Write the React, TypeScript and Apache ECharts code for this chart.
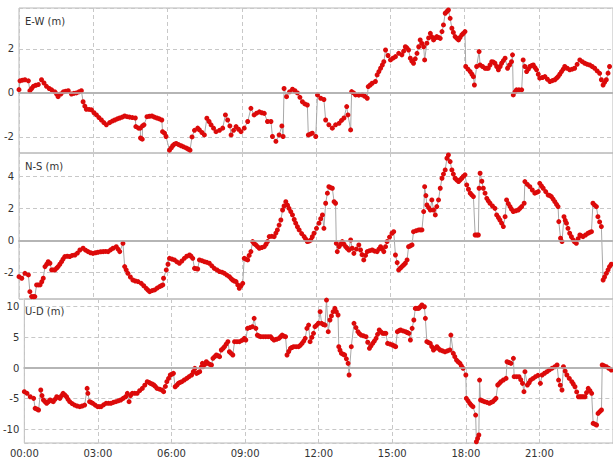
import React, { useEffect, useRef } from 'react';
import * as echarts from 'echarts';

const panelTitles = ['E-W (m)', 'N-S (m)', 'U-D (m)'];
const hourTicks = ['00:00', '03:00', '06:00', '09:00', '12:00', '15:00', '18:00', '21:00', '24:00'];

// [hour of day, metres]
const ewData: [number, number][] = [
  [0.00,0.15],[0.04,0.55],[0.14,0.58],[0.24,0.6],[0.38,0.55],[0.44,0.1],[0.51,0.2],[0.58,0.3],[0.68,0.35],[0.78,0.38],[0.91,0.6],[1.01,0.45],[1.11,0.3],[1.22,0.2],[1.32,0.14],[1.45,0.05],[1.52,-0.05],[1.58,-0.17],[1.69,-0.05],[1.79,0.05],[1.89,0.08],[1.99,0.1],[2.12,-0.05],[2.22,-0.02],[2.32,0.0],[2.42,0.05],[2.52,0.1],[2.59,-0.4],[2.66,-0.6],[2.72,-0.74],[2.83,-0.75],[2.93,-0.77],[3.03,-0.9],[3.13,-1.0],[3.23,-1.12],[3.33,-1.23],[3.43,-1.35],[3.53,-1.45],[3.66,-1.35],[3.77,-1.28],[3.87,-1.23],[3.97,-1.18],[4.07,-1.14],[4.17,-1.1],[4.27,-1.05],[4.37,-1.08],[4.47,-1.1],[4.58,-1.12],[4.70,-1.14],[4.72,-1.53],[4.83,-1.6],[4.90,-1.6],[4.91,-2.05],[4.98,-2.1],[4.99,-1.5],[5.05,-1.45],[5.17,-1.08],[5.27,-1.06],[5.37,-1.05],[5.47,-1.1],[5.57,-1.14],[5.67,-1.18],[5.77,-1.23],[5.80,-1.76],[5.88,-1.83],[5.94,-1.98],[6.08,-2.6],[6.15,-2.5],[6.21,-2.4],[6.28,-2.33],[6.35,-2.3],[6.45,-2.35],[6.55,-2.4],[6.65,-2.45],[6.75,-2.5],[6.83,-2.55],[6.91,-2.6],[6.99,-2.0],[7.09,-1.7],[7.22,-1.6],
  [7.29,-1.68],[7.39,-1.8],[7.49,-1.91],[7.59,-1.15],[7.68,-1.3],[7.76,-1.45],[7.86,-1.6],[7.96,-1.76],[8.1,-1.7],[8.23,-1.6],[8.34,-1.0],[8.43,-1.23],[8.52,-1.5],[8.57,-1.91],[8.67,-1.7],[8.77,-1.53],[8.87,-1.65],[8.97,-1.76],[9.10,-1.6],[9.24,-1.3],[9.37,-0.7],[9.50,-1.0],[9.6,-0.92],[9.71,-0.86],[9.81,-0.9],[9.91,-0.93],[10.04,-1.3],[10.18,-1.3],[10.24,-1.98],[10.38,-2.2],[10.51,-1.91],[10.62,-1.5],[10.67,-1.98],[10.71,0.2],[10.81,-0.17],[10.93,0.05],[11.05,0.17],[11.15,0.1],[11.25,0.0],[11.35,-0.2],[11.45,-0.4],[11.55,-0.5],[11.65,-0.55],[11.69,-1.91],[11.77,-1.87],[11.85,-1.83],[11.99,-1.98],[12.06,-0.09],[12.19,-0.24],[12.32,-0.3],[12.39,-1.23],[12.52,-1.45],[12.66,-1.6],[12.79,-1.45],[12.93,-1.38],[13.03,-1.25],[13.13,-1.14],[13.24,-0.62],[13.29,-1.0],[13.40,-1.68],[13.44,0.06],[13.52,0.0],[13.60,-0.09],[13.73,-0.1],[13.87,-0.09],[13.97,-0.15],[14.07,-0.24],[14.11,0.29],[14.19,0.36],[14.27,0.44],[14.40,0.52],[14.47,0.82],[14.54,0.97],[14.61,1.12],[14.68,1.27],[14.74,1.42],[14.81,1.95],[14.91,1.7],[15.01,1.5],[15.11,1.58],[15.21,1.65],[15.34,1.8],
  [15.47,1.73],[15.54,1.9],[15.61,2.1],[15.67,2.05],[15.74,1.95],[15.81,1.58],[15.87,1.45],[15.94,1.35],[16.01,1.55],[16.08,1.8],[16.15,2.1],[16.21,2.41],[16.28,2.25],[16.35,2.1],[16.39,1.5],[16.48,2.26],[16.55,2.5],[16.62,2.71],[16.68,2.55],[16.75,2.41],[16.82,2.5],[16.88,2.56],[16.95,2.52],[17.02,2.48],[17.09,2.79],[17.15,3.09],[17.22,3.62],[17.29,3.7],[17.35,3.77],[17.42,3.39],[17.49,2.94],[17.55,2.75],[17.62,2.56],[17.69,2.48],[17.76,2.41],[17.82,2.52],[17.89,2.64],[17.95,2.7],[18.02,2.79],[18.05,1.2],[18.14,1.08],[18.23,0.97],[18.30,0.85],[18.36,0.74],[18.40,0.36],[18.49,1.2],[18.59,1.88],[18.63,1.27],[18.73,1.2],[18.83,1.12],[18.90,1.12],[18.96,1.12],[19.03,1.27],[19.10,1.42],[19.17,1.4],[19.23,1.35],[19.30,1.2],[19.37,1.05],[19.44,1.2],[19.50,1.35],[19.57,1.47],[19.64,1.58],[19.74,1.12],[19.82,1.27],[19.90,1.42],[19.94,1.73],[19.97,-0.09],[20.04,0.05],[20.10,0.14],[20.20,0.14],[20.31,0.14],[20.37,1.5],[20.44,1.2],[20.51,0.97],[20.58,1.08],[20.64,1.2],[20.71,1.24],[20.78,1.27],[20.85,1.15],[20.91,1.05],[20.98,0.85],[21.04,0.67],[21.15,0.7],[21.25,0.74],[21.35,0.62],[21.45,0.52],[21.55,0.56],[21.65,0.6],[21.72,0.67],[21.78,0.74],[21.85,0.85],[21.92,0.97],[21.99,1.08],[22.05,1.2],[22.15,1.12],[22.25,1.05],[22.35,1.08],[22.45,1.12],[22.55,1.3],[22.66,1.5],[22.76,1.42],[22.86,1.35],[22.96,1.3],[23.06,1.27],[23.16,1.2],[23.26,1.12],[23.36,1.0],[23.46,0.89],[23.53,0.6],[23.60,0.36],[23.66,0.48],[23.73,0.6],[23.8,0.9],[23.86,1.2],
];

const nsData: [number, number][] = [
  [0.00,-2.28],[0.11,-2.38],[0.24,-2.07],[0.38,-2.17],[0.44,-3.22],[0.51,-3.53],[0.58,-3.53],[0.64,-3.53],[0.71,-2.8],[0.78,-2.8],[0.85,-2.8],[0.92,-2.6],[0.98,-2.38],[1.05,-1.65],[1.12,-1.5],[1.18,-1.34],[1.25,-1.44],[1.32,-1.86],[1.38,-1.86],[1.45,-1.86],[1.52,-1.75],[1.58,-1.65],[1.65,-1.5],[1.72,-1.34],[1.78,-1.18],[1.85,-1.02],[1.95,-1.0],[2.05,-1.02],[2.15,-0.95],[2.26,-0.92],[2.36,-0.8],[2.46,-0.61],[2.59,-0.5],[2.69,-0.62],[2.79,-0.71],[2.89,-0.78],[2.99,-0.82],[3.09,-0.78],[3.19,-0.75],[3.30,-0.72],[3.40,-0.71],[3.50,-0.7],[3.60,-0.71],[3.70,-0.6],[3.80,-0.5],[3.93,-0.4],[4.00,-0.55],[4.07,-0.71],[4.20,-0.19],[4.27,-1.65],[4.33,-1.85],[4.40,-2.07],[4.50,-2.3],[4.60,-2.49],[4.70,-2.55],[4.81,-2.59],[4.94,-2.7],[5.04,-2.85],[5.14,-3.01],[5.21,-3.12],[5.28,-3.22],[5.38,-3.15],[5.48,-3.11],[5.58,-3.0],[5.68,-2.9],[5.75,-2.85],[5.81,-2.8],[5.84,-2.38],[5.95,-1.86],[6.02,-1.5],[6.08,-1.13],[6.18,-1.18],[6.28,-1.23],[6.38,-1.35],[6.48,-1.44],[6.58,-1.3],[6.68,-1.13],[6.78,-1.0],[6.89,-0.92],[6.95,-1.0],[7.02,-1.13],[7.09,-1.76],[7.16,-1.78],[7.22,-1.8],
  [7.29,-1.23],[7.39,-1.28],[7.49,-1.34],[7.59,-1.38],[7.69,-1.44],[7.79,-1.6],[7.89,-1.76],[8.00,-1.86],[8.10,-1.96],[8.20,-2.0],[8.30,-2.07],[8.40,-2.18],[8.50,-2.28],[8.57,-2.4],[8.63,-2.49],[8.70,-2.55],[8.77,-2.59],[8.84,-2.8],[8.90,-3.01],[8.97,-2.85],[9.04,-2.7],[9.10,-1.13],[9.17,-1.18],[9.24,-1.23],[9.30,-0.95],[9.37,-0.71],[9.44,-0.08],[9.50,-0.2],[9.57,-0.29],[9.64,-0.4],[9.71,-0.5],[9.81,-0.45],[9.91,-0.4],[9.98,-0.25],[10.04,-0.08],[10.11,0.23],[10.21,0.25],[10.31,0.23],[10.38,0.45],[10.44,0.65],[10.51,0.95],[10.58,1.27],[10.65,1.9],[10.71,2.15],[10.78,2.42],[10.85,2.2],[10.91,2.0],[10.98,1.8],[11.05,1.59],[11.12,1.3],[11.18,1.07],[11.25,0.85],[11.32,0.65],[11.42,0.42],[11.52,0.23],[11.58,0.08],[11.65,-0.08],[11.72,-0.05],[11.79,0.02],[11.85,0.22],[11.92,0.44],[12.02,0.75],[12.12,1.07],[12.19,1.35],[12.26,1.59],[12.32,0.75],[12.39,2.32],[12.46,2.95],[12.52,3.36],[12.59,3.3],[12.66,3.26],[12.73,2.42],[12.79,2.32],[12.82,-0.19],[12.86,-0.71],[12.93,-0.4],[13.00,-0.25],[13.06,-0.08],[13.13,-0.25],[13.20,-0.4],[13.26,-0.5],[13.33,-0.61],[13.40,0.02],[13.46,-0.5],[13.53,-0.82],[13.63,-0.55],[13.73,-0.29],[13.80,-0.61],[13.86,-0.9],[13.93,-1.23],[14.00,-0.95],[14.07,-0.71],[14.17,-0.65],[14.27,-0.61],[14.37,-0.68],[14.47,-0.71],[14.54,-0.55],[14.61,-0.4],[14.67,-0.55],[14.74,-0.71],[14.81,-0.4],[14.87,-0.08],[14.97,0.2],[15.07,0.44],[15.14,0.54],[15.21,-0.92],[15.28,-1.4],[15.34,-1.86],
  [15.41,-1.75],[15.47,-1.65],[15.54,-1.55],[15.61,-1.44],[15.68,-1.23],[15.74,-0.4],[15.81,-0.35],[15.88,-0.29],[15.94,0.54],[16.05,0.6],[16.15,0.65],[16.22,0.65],[16.28,0.65],[16.35,1.8],[16.39,3.36],[16.44,2.8],[16.48,2.21],[16.55,2.05],[16.62,1.9],[16.68,2.53],[16.75,1.9],[16.82,1.59],[16.88,2.11],[16.95,2.53],[17.02,3.26],[17.09,3.89],[17.15,4.15],[17.22,4.41],[17.29,5.14],[17.35,5.35],[17.42,4.93],[17.49,4.41],[17.55,4.15],[17.62,3.89],[17.69,3.78],[17.76,3.68],[17.82,3.78],[17.89,3.89],[17.95,4.0],[18.02,4.1],[18.09,3.47],[18.16,3.2],[18.23,2.95],[18.29,2.85],[18.36,2.74],[18.43,0.33],[18.50,0.33],[18.56,0.33],[18.59,3.26],[18.63,4.2],[18.70,3.7],[18.76,3.26],[18.83,2.95],[18.90,2.63],[18.96,2.47],[19.03,2.32],[19.13,2.15],[19.23,2.0],[19.30,1.59],[19.37,1.43],[19.43,1.27],[19.50,1.07],[19.57,0.86],[19.64,1.48],[19.70,2.53],[19.77,2.3],[19.84,2.11],[19.90,1.95],[19.97,1.8],[20.07,1.85],[20.17,1.9],[20.24,2.0],[20.31,2.11],[20.41,2.32],[20.44,3.68],[20.54,3.5],[20.64,3.36],[20.74,3.15],[20.84,2.95],[20.91,3.0],[20.98,3.05],[21.04,3.57],[21.11,3.4],[21.18,3.26],[21.28,3.05],[21.38,2.84],[21.45,2.8],[21.51,2.74],[21.58,2.58],[21.65,2.42],[21.72,2.25],[21.78,2.11],[21.81,1.17],[21.88,0.13],[21.94,-0.08],[22.02,1.48],[22.07,1.25],[22.12,1.07],[22.18,0.75],[22.25,0.44],[22.32,0.22],[22.39,0.02],[22.45,-0.1],[22.52,-0.19],[22.59,0.1],[22.66,0.33],[22.72,0.28],[22.79,0.23],[22.89,0.33],[22.99,0.44],[23.06,0.5],[23.13,0.54],[23.19,2.32],[23.26,2.2],[23.33,2.11],[23.39,1.48],[23.46,1.15],[23.53,0.86],[23.60,-2.49],[23.66,-2.3],[23.73,-2.07],[23.80,-1.85],[23.86,-1.65],[23.93,-1.5],
];

const udData: [number, number][] = [
  [0.00,-3.86],[0.11,-4.13],[0.24,-4.68],[0.38,-4.95],[0.44,-6.58],[0.51,-6.7],[0.58,-6.85],[0.67,-3.59],[0.72,-4.5],[0.78,-5.22],[0.85,-5.5],[0.91,-5.76],[0.98,-5.5],[1.05,-5.22],[1.12,-5.35],[1.18,-5.49],[1.25,-5.1],[1.32,-4.68],[1.38,-4.8],[1.45,-4.95],[1.52,-4.5],[1.58,-4.13],[1.65,-4.4],[1.72,-4.68],[1.78,-5.1],[1.85,-5.49],[1.95,-5.8],[2.05,-6.04],[2.15,-6.2],[2.26,-6.31],[2.36,-6.2],[2.46,-6.04],[2.56,-3.32],[2.59,-4.13],[2.66,-5.49],[2.72,-5.6],[2.79,-5.76],[2.89,-6.05],[2.99,-6.31],[3.06,-6.31],[3.13,-6.31],[3.23,-6.0],[3.33,-5.76],[3.43,-5.76],[3.53,-5.76],[3.63,-5.6],[3.73,-5.49],[3.83,-5.35],[3.93,-5.22],[4.03,-4.95],[4.13,-4.68],[4.20,-4.13],[4.27,-5.49],[4.33,-4.5],[4.40,-4.13],[4.50,-4.13],[4.60,-4.13],[4.70,-3.7],[4.81,-3.32],[4.91,-2.8],[5.01,-2.23],[5.08,-2.35],[5.14,-2.5],[5.21,-2.6],[5.28,-2.77],[5.34,-3.0],[5.41,-3.32],[5.51,-3.45],[5.61,-3.59],[5.68,-3.86],[5.75,-3.0],[5.81,-2.23],[5.88,-1.7],[5.95,-1.14],[6.02,-1.0],[6.08,-0.87],[6.15,-3.05],[6.22,-2.8],[6.28,-2.5],[6.35,-2.35],[6.42,-2.23],[6.52,-1.95],[6.62,-1.69],[6.72,-1.4],[6.82,-1.14],[6.89,-0.6],[6.95,-0.05],[7.02,-0.87],[7.08,-0.75],[7.15,-0.6],[7.22,0.2],[7.26,0.76],
  [7.29,0.22],[7.36,0.6],[7.42,1.03],[7.49,0.76],[7.56,0.6],[7.63,0.49],[7.69,1.58],[7.76,1.85],[7.83,2.12],[7.90,2.0],[7.96,1.85],[8.03,2.94],[8.10,3.2],[8.16,3.48],[8.23,3.9],[8.30,4.3],[8.36,2.66],[8.43,2.4],[8.50,2.12],[8.57,4.3],[8.67,4.3],[8.77,4.3],[8.87,4.5],[8.97,4.84],[9.03,4.57],[9.10,6.47],[9.20,6.6],[9.30,6.74],[9.37,8.1],[9.44,6.47],[9.50,5.38],[9.57,5.2],[9.64,5.11],[9.74,5.11],[9.84,5.11],[9.94,5.11],[10.04,5.11],[10.11,4.8],[10.18,4.57],[10.28,4.7],[10.38,4.84],[10.45,5.1],[10.51,5.38],[10.58,5.2],[10.65,5.11],[10.71,2.12],[10.78,2.7],[10.85,3.21],[10.91,3.35],[10.98,3.48],[11.08,3.48],[11.18,3.48],[11.25,3.7],[11.32,4.02],[11.39,4.4],[11.45,4.84],[11.52,6.47],[11.59,7.01],[11.65,4.3],[11.72,5.0],[11.79,5.66],[11.85,6.74],[11.92,7.01],[11.99,7.3],[12.06,9.19],[12.12,7.29],[12.19,7.1],[12.26,7.01],[12.32,11.09],[12.39,5.93],[12.46,7.83],[12.52,8.5],[12.59,9.19],[12.66,9.73],[12.72,9.2],[12.79,8.65],[12.82,3.48],[12.87,2.9],[12.93,2.39],[13.00,2.25],[13.06,2.12],[13.13,1.5],[13.20,0.76],[13.24,-1.14],[13.33,3.48],[13.44,7.29],[13.52,6.6],[13.60,5.93],[13.66,5.6],[13.73,5.38],[13.83,5.25],[13.93,5.11],[14.00,4.2],[14.07,3.21],[14.13,3.6],[14.20,4.02],[14.27,4.4],[14.34,4.84],[14.40,5.5],[14.47,6.2],[14.54,5.9],[14.61,5.66],[14.67,5.66],[14.74,5.66],[14.81,4.02],[14.91,3.9],[15.01,3.75],[15.08,3.6],[15.14,3.48],[15.21,5.93],[15.28,6.1],[15.34,6.2],
  [15.44,6.05],[15.54,5.93],[15.61,5.8],[15.68,5.66],[15.74,4.57],[15.81,6.47],[15.88,7.83],[15.94,9.73],[16.01,9.73],[16.08,9.73],[16.15,10.0],[16.21,10.28],[16.31,10.0],[16.35,8.1],[16.41,4.3],[16.48,4.15],[16.55,4.02],[16.61,3.5],[16.68,2.94],[16.75,3.2],[16.82,3.48],[16.88,3.2],[16.95,2.94],[17.05,2.8],[17.15,2.66],[17.25,2.8],[17.35,2.94],[17.39,5.38],[17.49,2.39],[17.55,1.85],[17.62,1.3],[17.69,1.0],[17.76,0.76],[17.82,0.35],[17.89,-0.05],[18.00,-1.14],[18.02,-4.95],[18.09,-5.35],[18.16,-5.76],[18.22,-6.05],[18.29,-6.31],[18.40,-7.67],[18.43,-12.02],[18.48,-11.5],[18.53,-10.93],[18.56,-1.96],[18.60,-5.22],[18.68,-5.35],[18.76,-5.49],[18.86,-5.6],[18.96,-5.76],[19.03,-5.6],[19.10,-5.49],[19.17,-5.2],[19.23,-4.95],[19.30,-2.77],[19.37,-2.5],[19.43,-2.23],[19.53,-1.95],[19.64,-1.69],[19.68,1.03],[19.76,0.9],[19.84,0.76],[19.94,1.58],[19.97,-1.41],[20.07,-1.41],[20.17,-1.41],[20.24,-1.9],[20.31,-2.5],[20.37,-3.86],[20.41,-0.6],[20.51,-2.77],[20.58,-2.4],[20.64,-1.96],[20.74,-1.7],[20.84,-1.41],[20.94,-1.2],[21.04,-2.5],[21.11,-1.14],[21.21,-0.85],[21.31,-0.6],[21.41,-0.3],[21.51,-0.05],[21.62,0.2],[21.72,0.49],[21.78,-1.96],[21.85,-2.8],[21.92,-3.59],[21.98,0.22],[22.05,-0.5],[22.12,-1.14],[22.22,-1.7],[22.32,-2.23],[22.38,-2.6],[22.45,-3.05],[22.52,-3.9],[22.59,-4.68],[22.66,-4.68],[22.72,-4.68],[22.79,-4.68],[22.86,-4.68],[22.92,-4.0],[22.99,-3.32],[23.06,-3.7],[23.13,-4.13],[23.19,-9.03],[23.26,-9.15],[23.33,-9.3],[23.39,-7.4],[23.46,-7.1],[23.53,-6.85],[23.56,0.49],[23.64,0.35],[23.73,0.22],[23.83,-0.05],[23.93,-0.33],
];

const seriesData = [ewData, nsData, udData];
const yMins = [-2.73, -3.68, -12.23];
const yMaxs = [3.86, 5.47, 11.26];
const ySplitCounts = [3, 4, 5];

export default function App() {
  const ref = useRef<HTMLDivElement>(null);
  useEffect(() => {
    const chart = echarts.init(ref.current!, null, { renderer: 'svg' });
    const font = 'DejaVu Sans';
    const gridBoxes = [
      { top: 8, height: 145 },
      { top: 153, height: 146 },
      { top: 299, height: 144 },
    ];
    const dashed = { show: true, lineStyle: { color: '#c8c8c8', type: [4, 3] as any, width: 1 } };
    const option: any = {
      animation: false,
      backgroundColor: '#ffffff',
      title: panelTitles.map((t, i) => ({
        text: t,
        left: 25,
        top: gridBoxes[i].top + [8, 8, 7][i],
        padding: 0,
        textStyle: { fontSize: 10, fontWeight: 'normal', color: '#333', fontFamily: font },
      })),
      grid: gridBoxes.map((g) => ({
        left: 19,
        right: -2,
        top: g.top,
        height: g.height,
        show: true,
        borderColor: '#b8b8b8',
        borderWidth: 1,
        containLabel: false,
      })),
      xAxis: gridBoxes.map((_, i) => ({
        type: 'value',
        gridIndex: i,
        min: 0,
        max: 24,
        interval: 3,
        axisLine: { show: true, lineStyle: { color: '#b8b8b8', width: 2 } },
        axisTick: { show: false },
        axisLabel: {
          show: i === 2,
          showMaxLabel: false,
          margin: 5,
          fontSize: 10,
          fontFamily: font,
          color: '#333',
          formatter: (v: number) => hourTicks[Math.round(v / 3)],
        },
        splitLine: dashed,
      })),
      yAxis: gridBoxes.map((_, i) => ({
        type: 'value',
        gridIndex: i,
        min: yMins[i],
        max: yMaxs[i],
        splitNumber: ySplitCounts[i],
        axisLine: { show: false },
        axisTick: { show: false },
        axisLabel: {
          showMinLabel: false,
          showMaxLabel: false,
          margin: 5,
          fontSize: 10,
          fontFamily: font,
          color: '#333',
        },
        splitLine: dashed,
      })),
      series: [
        ...seriesData.map((_, i) => ({
          type: 'line',
          xAxisIndex: i,
          yAxisIndex: i,
          data: [],
          silent: true,
          z: 1,
          markLine: {
            silent: true,
            symbol: 'none',
            label: { show: false },
            lineStyle: { color: '#b4b4b4', type: 'solid', width: 1.5 },
            data: [{ yAxis: 0 }],
          },
        })),
        ...seriesData.map((d, i) => ({
          type: 'line',
          xAxisIndex: i,
          yAxisIndex: i,
          data: d,
          silent: true,
          z: 3,
          symbol: 'circle',
          symbolSize: 5,
          showSymbol: true,
          showAllSymbol: true,
          lineStyle: { color: '#a8a8a8', width: 1 },
          itemStyle: { color: '#dc0a0a' },
        })),
      ],
    };
    chart.setOption(option);
    return () => chart.dispose();
  }, []);
  return <div ref={ref} style={{ position: 'absolute', left: 0, top: 0, width: 613, height: 466 }} />;
}
